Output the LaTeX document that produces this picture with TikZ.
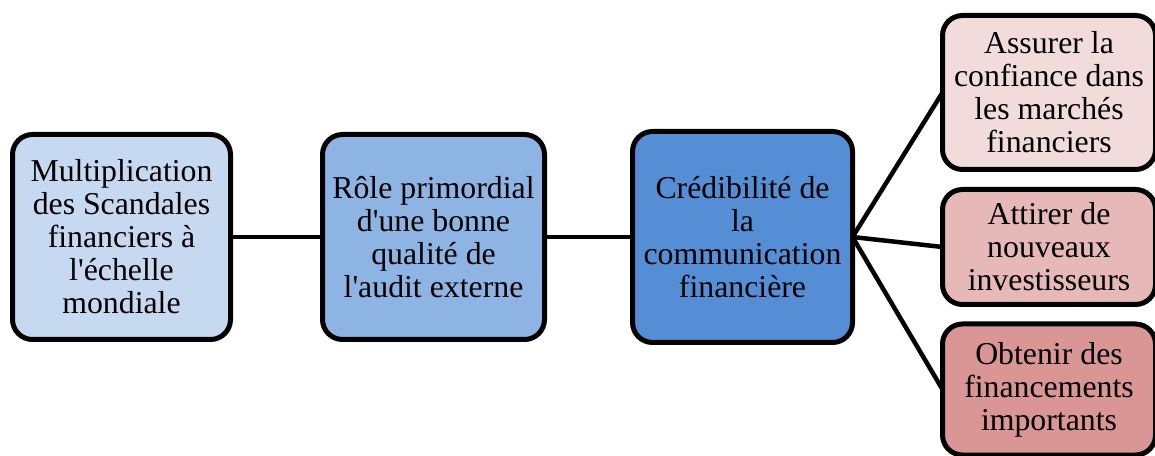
\documentclass[tikz,border=0pt]{standalone}
\usepackage{fontspec}
\setmainfont{Liberation Serif}[Ligatures=TeXOff]
\definecolor{bluelight}{HTML}{C6D9F1}
\definecolor{bluemid}{HTML}{8EB4E3}
\definecolor{bluedark}{HTML}{558ED5}
\definecolor{redlight}{HTML}{F2DCDB}
\definecolor{redmid}{HTML}{E6B9B8}
\definecolor{reddark}{HTML}{D99694}

\begin{document}
\begin{tikzpicture}[
	x=1pt, y=1pt,
	every node/.style={outer sep=0pt, font=\fontsize{31.8}{33}\selectfont},
	box/.style={draw, rounded corners=20pt, line width=5pt, align=center, inner sep=0pt},
	link/.style={line width=4.5pt},
]
\useasboundingbox (0,0) rectangle (1155,455);
\clip (0,0) rectangle (1155,455);
% Chain of three causes, left to right.
	\node[box, fill=bluelight, minimum width=218pt, minimum height=205pt]
		at (121.5,218) (scandal) {Multiplication\\des Scandales\\financiers à\\l'échelle\\mondiale};
	\node[box, fill=bluemid, minimum width=222pt, minimum height=205pt]
		at (433.5,218) (audit) {Rôle primordial\\d'une bonne\\qualité de\\l'audit externe};
	\node[box, fill=bluedark, minimum width=220pt, minimum height=211pt]
		at (742.5,218) (cred) {Crédibilité de\\la\\communication\\financière};
% Three effects on the right (cut by the border).
	\node[box, fill=redlight, minimum width=213pt, minimum height=154pt]
		at (1049,362.5) (trust) {Assurer la\\confiance dans\\les marchés\\financiers};
	\node[box, fill=redmid, minimum width=213pt, minimum height=115pt]
		at (1049,208) (invest) {Attirer de\\nouveaux\\investisseurs};
	\node[box, fill=reddark, minimum width=213pt, minimum height=131pt]
		at (1049,65.5) (funds) {Obtenir des\\financements\\importants};
	\draw[link] (scandal.east) -- (audit.west);
	\draw[link] (audit.east) -- (cred.west);
	\draw[link] (cred.east) -- (trust.west);
	\draw[link] (cred.east) -- (invest.west);
	\draw[link] (cred.east) -- (funds.west);
\end{tikzpicture}
\end{document}
